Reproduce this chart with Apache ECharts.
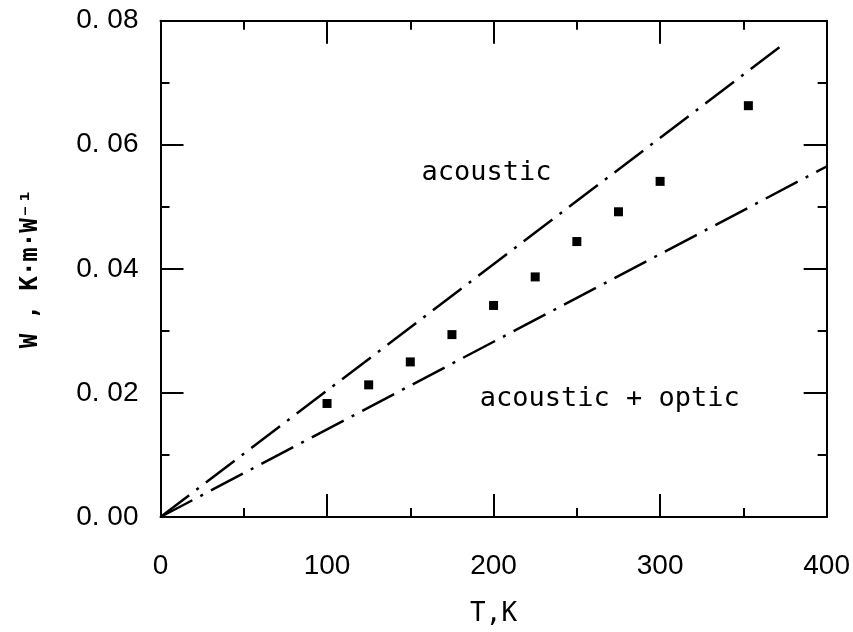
<!DOCTYPE html>
<html>
<head>
<meta charset="utf-8">
<script src="https://cdn.jsdelivr.net/npm/echarts@6/dist/echarts.min.js"></script>
<style>
  html, body { margin: 0; padding: 0; background: #ffffff; }
  #chart { width: 853px; height: 632px; }
</style>
</head>
<body>
<div id="chart"></div>
<script>
// Measured thermal resistivity W versus temperature T
const measuredT = [100, 125, 150, 175, 200, 225, 250, 275, 300, 353];
const measuredW = [0.0183, 0.0213, 0.0250, 0.0294, 0.0341, 0.0387, 0.0444, 0.0492, 0.0541, 0.0663];

// Calculated contributions (straight lines from the origin)
const acousticT = [0, 374];
const acousticW = [0, 0.0762];
const combinedT = [0, 400];
const combinedW = [0, 0.0565];

// Region captions and where they sit, in data units
const captionText = ['acoustic', 'acoustic + optic'];
const captionT = [156.7, 191.7];
const captionW = [0.0555, 0.0190];

// Axis ranges and tick steps
const xRange = [0, 400];
const xStep = 100;
const yRange = [0, 0.08];
const yStep = 0.02;

const zip = (xs, ys) => xs.map((x, i) => [x, ys[i]]);

const ink = '#000000';
const digitFont = '"Liberation Sans", Arial, sans-serif';
const monoFont = '"DejaVu Sans Mono", "Liberation Mono", monospace';

function frameAxis(extra) {
  return Object.assign({
    type: 'value',
    axisLine: { show: true, onZero: false, lineStyle: { color: ink, width: 2 } },
    axisTick: { show: true, inside: true, length: 23, lineStyle: { color: ink, width: 2 } },
    minorTick: { show: true, splitNumber: 2, length: 9, lineStyle: { color: ink, width: 2 } },
    splitLine: { show: false },
    minorSplitLine: { show: false }
  }, extra);
}

const dashDot = [36, 9, 3, 9];

const chart = echarts.init(document.getElementById('chart'), null, { renderer: 'canvas' });

chart.setOption({
  backgroundColor: '#ffffff',
  animation: false,
  grid: { left: 160.5, right: 26, top: 20.7, bottom: 109.3, containLabel: false },
  xAxis: [
    frameAxis({
      position: 'bottom',
      min: xRange[0], max: xRange[1], interval: xStep,
      name: 'T,K',
      nameLocation: 'middle',
      nameGap: 84,
      nameTextStyle: { color: ink, fontFamily: monoFont, fontSize: 26, verticalAlign: 'top' },
      axisLabel: { show: true, margin: 35, color: ink, fontFamily: digitFont, fontSize: 28 }
    }),
    frameAxis({
      position: 'top',
      min: xRange[0], max: xRange[1], interval: xStep,
      axisLabel: { show: false }
    })
  ],
  yAxis: [
    frameAxis({
      position: 'left',
      min: yRange[0], max: yRange[1], interval: yStep,
      name: 'W , K·m·W⁻¹',
      nameLocation: 'middle',
      nameGap: 118,
      nameTextStyle: { color: ink, fontFamily: monoFont, fontWeight: 'bold', fontSize: 24 },
      axisLabel: {
        show: true, margin: 22, color: ink, fontFamily: digitFont, fontSize: 28,
        formatter: v => v.toFixed(2).replace('.', '. ')
      }
    }),
    frameAxis({
      position: 'right',
      min: yRange[0], max: yRange[1], interval: yStep,
      axisLabel: { show: false }
    })
  ],
  series: [
    {
      name: 'acoustic',
      type: 'line',
      xAxisIndex: 0, yAxisIndex: 0,
      data: zip(acousticT, acousticW),
      showSymbol: false,
      symbol: 'none',
      lineStyle: { color: ink, width: 2.5, type: dashDot, cap: 'butt' },
      z: 3
    },
    {
      name: 'acoustic + optic',
      type: 'line',
      xAxisIndex: 0, yAxisIndex: 0,
      data: zip(combinedT, combinedW),
      showSymbol: false,
      symbol: 'none',
      lineStyle: { color: ink, width: 2.5, type: dashDot, cap: 'butt' },
      z: 3
    },
    {
      name: 'measured',
      type: 'scatter',
      xAxisIndex: 0, yAxisIndex: 0,
      data: zip(measuredT, measuredW),
      symbol: 'rect',
      symbolSize: 9,
      itemStyle: { color: ink, opacity: 1 },
      z: 4
    },
    {
      name: 'captions',
      type: 'scatter',
      xAxisIndex: 0, yAxisIndex: 0,
      data: captionText.map((t, i) => ({ value: [captionT[i], captionW[i]], name: t })),
      symbolSize: 0,
      silent: true,
      itemStyle: { opacity: 1 },
      label: {
        show: true,
        position: 'inside',
        align: 'left',
        verticalAlign: 'middle',
        formatter: p => p.name,
        color: ink,
        fontFamily: monoFont,
        fontSize: 27
      },
      z: 5
    }
  ]
});
</script>
</body>
</html>
